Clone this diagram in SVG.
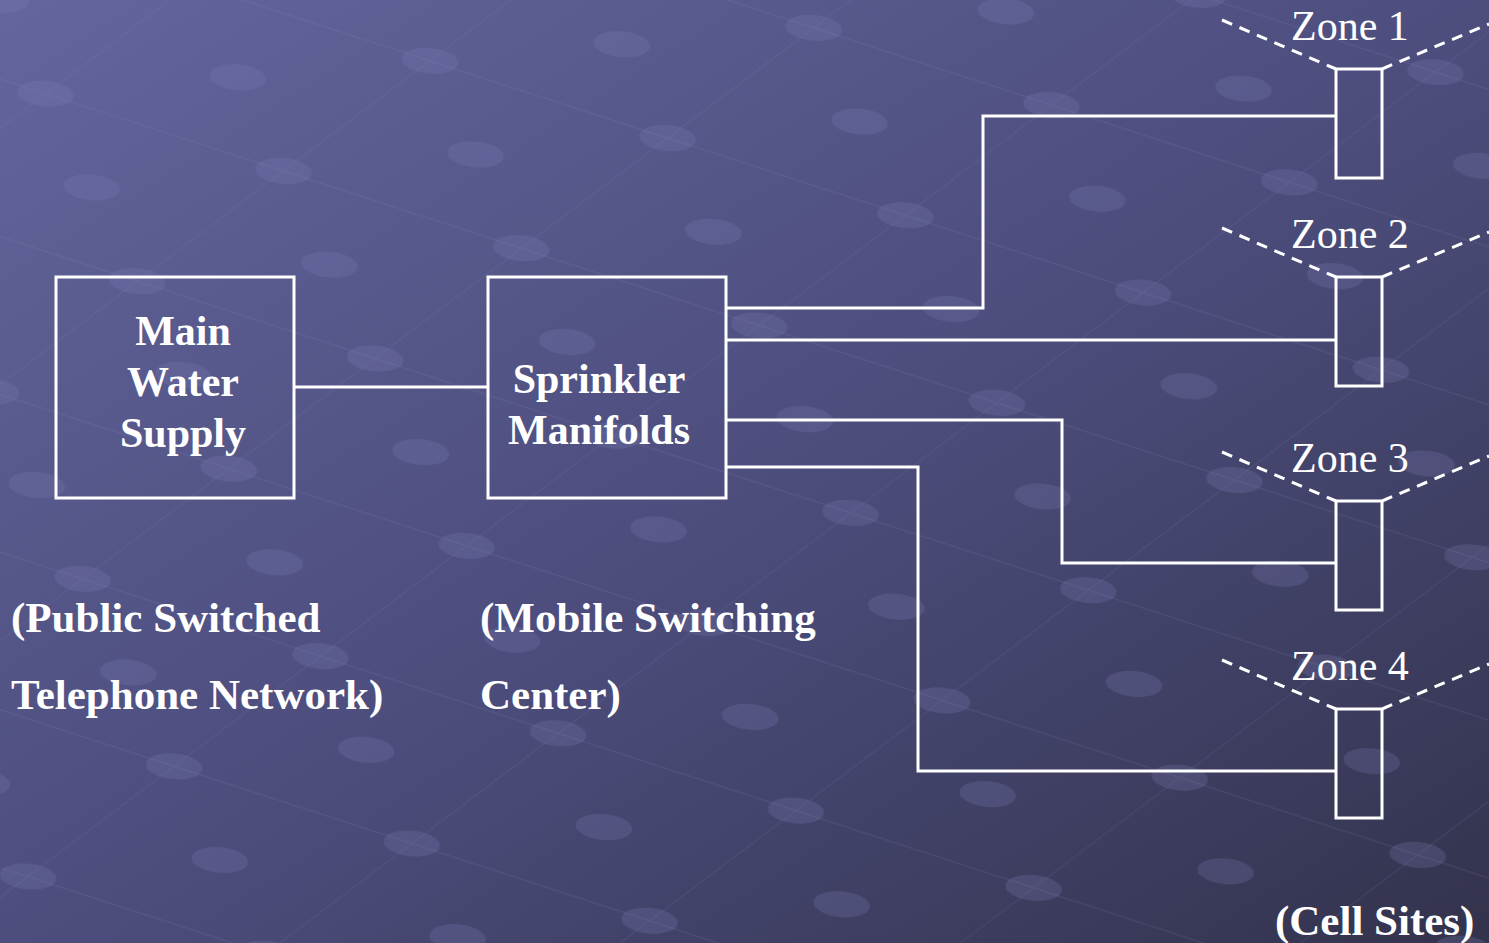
<svg xmlns="http://www.w3.org/2000/svg" width="1489" height="943" viewBox="0 0 1489 943">
<defs>
<linearGradient id="bg" x1="0" y1="0" x2="1" y2="1">
<stop offset="0" stop-color="#63669c"/>
<stop offset="0.5" stop-color="#4d4e7e"/>
<stop offset="1" stop-color="#33334d"/>
</linearGradient>
<pattern id="dots" width="250" height="150" patternUnits="userSpaceOnUse" patternTransform="rotate(18) skewX(-35)">
<path d="M0 75 H250 M125 0 V150" stroke="#8a8cc0" stroke-opacity="0.12" stroke-width="1.5" fill="none"/>
<ellipse cx="125" cy="75" rx="26" ry="14" fill="#7a7cb4" fill-opacity="0.25"/>
<ellipse cx="0" cy="0" rx="26" ry="14" fill="#7a7cb4" fill-opacity="0.25"/>
<ellipse cx="250" cy="0" rx="26" ry="14" fill="#7a7cb4" fill-opacity="0.25"/>
<ellipse cx="0" cy="150" rx="26" ry="14" fill="#7a7cb4" fill-opacity="0.25"/>
<ellipse cx="250" cy="150" rx="26" ry="14" fill="#7a7cb4" fill-opacity="0.25"/>
</pattern>
</defs>
<style>
.box{fill:none;stroke:#fff;stroke-width:3}
.wire{fill:none;stroke:#fff;stroke-width:3}
.dash{fill:none;stroke:#fff;stroke-width:3;stroke-dasharray:11 8}
.bt{font-family:"Liberation Serif","Times New Roman",serif;font-weight:bold;font-size:42px;fill:#fff}
.lt{font-family:"Liberation Serif","Times New Roman",serif;font-weight:bold;font-size:43px;fill:#fff}
.rt{font-family:"Liberation Serif","Times New Roman",serif;font-size:42px;fill:#fff}
</style>
<rect width="1489" height="943" fill="url(#bg)"/>
<rect width="1489" height="943" fill="url(#dots)"/>

<g id="connectors">
<path class="wire" d="M294 387 H488"/>
<path class="wire" d="M726 308 H983 V116 H1336"/>
<path class="wire" d="M726 340 H1336"/>
<path class="wire" d="M726 420 H1062 V563 H1336"/>
<path class="wire" d="M726 467 H918 V771 H1336"/>
</g>

<g id="main-water-supply">
<rect class="box" x="56" y="277" width="238" height="221"/>
<text class="bt" text-anchor="middle" x="183" y="345">Main</text>
<text class="bt" text-anchor="middle" x="183" y="396">Water</text>
<text class="bt" text-anchor="middle" x="183" y="447">Supply</text>
</g>

<g id="sprinkler-manifolds">
<rect class="box" x="488" y="277" width="238" height="221"/>
<text class="bt" text-anchor="middle" x="599" y="393">Sprinkler</text>
<text class="bt" text-anchor="middle" x="599" y="444">Manifolds</text>
</g>

<g id="zone1">
<rect class="box" x="1336" y="69" width="46" height="109"/>
<path class="dash" d="M1222 20 L1336 69 M1382 69 L1489 24"/>
<text class="rt" x="1291" y="40">Zone 1</text>
</g>
<g id="zone2">
<rect class="box" x="1336" y="277" width="46" height="109"/>
<path class="dash" d="M1222 228 L1336 277 M1382 277 L1489 232"/>
<text class="rt" x="1291" y="248">Zone 2</text>
</g>
<g id="zone3">
<rect class="box" x="1336" y="501" width="46" height="109"/>
<path class="dash" d="M1222 452 L1336 501 M1382 501 L1489 456"/>
<text class="rt" x="1291" y="472">Zone 3</text>
</g>
<g id="zone4">
<rect class="box" x="1336" y="709" width="46" height="109"/>
<path class="dash" d="M1222 660 L1336 709 M1382 709 L1489 664"/>
<text class="rt" x="1291" y="680">Zone 4</text>
</g>

<g id="labels">
<text class="lt" x="11" y="632">(Public Switched</text>
<text class="lt" x="11" y="709">Telephone Network)</text>
<text class="lt" x="480" y="632">(Mobile Switching</text>
<text class="lt" x="480" y="709">Center)</text>
<text class="lt" x="1275" y="935">(Cell Sites)</text>
</g>
</svg>
